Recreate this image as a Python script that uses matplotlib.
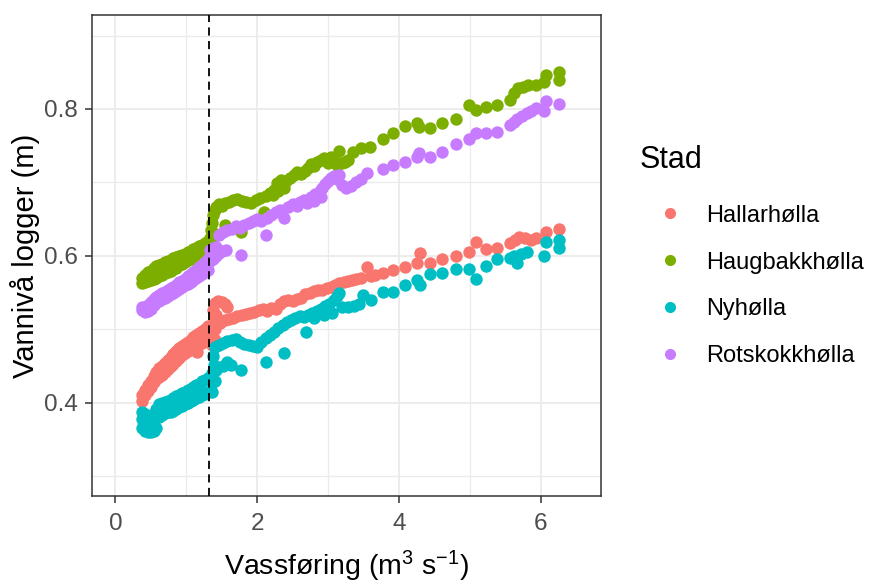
import matplotlib
matplotlib.use("Agg")
import matplotlib.pyplot as plt
from matplotlib.lines import Line2D

plt.rcParams['font.family'] = ['Liberation Sans', 'DejaVu Sans']
plt.rcParams['mathtext.default'] = 'regular'

# site names and ggplot hue colours
sites = ['Hallarhølla', 'Haugbakkhølla', 'Nyhølla', 'Rotskokkhølla']
colors = ['#F8766D', '#7CAE00', '#00BFC4', '#C77CFF']

# discharge threshold (dashed line)
threshold = 1.32

# (vassføring, vannivå)
hallar = [
    (0.38, 0.403), (0.38, 0.410), (0.42, 0.410), (0.42, 0.417), (0.46, 0.416), (0.46, 0.424),
    (0.50, 0.422), (0.50, 0.430), (0.54, 0.428), (0.54, 0.437), (0.58, 0.432), (0.58, 0.442),
    (0.62, 0.435), (0.62, 0.447), (0.66, 0.438), (0.66, 0.450), (0.70, 0.442), (0.70, 0.454),
    (0.74, 0.446), (0.74, 0.458), (0.78, 0.450), (0.78, 0.462), (0.82, 0.453), (0.82, 0.466),
    (0.86, 0.457), (0.86, 0.470), (0.90, 0.461), (0.90, 0.474), (0.94, 0.465), (0.94, 0.477),
    (0.98, 0.468), (0.98, 0.480), (1.02, 0.471), (1.02, 0.483), (1.06, 0.474), (1.06, 0.486),
    (1.10, 0.476), (1.10, 0.489), (1.14, 0.478), (1.14, 0.492), (1.18, 0.480), (1.18, 0.495),
    (1.22, 0.482), (1.22, 0.498), (1.26, 0.484), (1.26, 0.501), (1.30, 0.486), (1.30, 0.504),
    (1.15, 0.469),
    (1.37, 0.478), (1.38, 0.490), (1.37, 0.502), (1.39, 0.514), (1.38, 0.526), (1.40, 0.536),
    (1.42, 0.520), (1.41, 0.500), (1.40, 0.485),
    (1.45, 0.538), (1.50, 0.537), (1.55, 0.534), (1.58, 0.531),
    (1.48, 0.508), (1.54, 0.512), (1.60, 0.514), (1.66, 0.516), (1.72, 0.518), (1.78, 0.520),
    (1.84, 0.521), (1.90, 0.522), (1.96, 0.524), (2.02, 0.526), (2.08, 0.527), (2.14, 0.525),
    (2.20, 0.529), (2.26, 0.528), (2.32, 0.534), (2.38, 0.538), (2.44, 0.540), (2.50, 0.538),
    (2.56, 0.541), (2.62, 0.543), (2.68, 0.548), (2.74, 0.550), (2.80, 0.552), (2.86, 0.554),
    (2.92, 0.553), (2.98, 0.556), (3.04, 0.558), (3.10, 0.560), (3.16, 0.563), (3.22, 0.565),
    (3.28, 0.566), (3.34, 0.567), (3.40, 0.569), (3.46, 0.570), (3.55, 0.585), (3.60, 0.572),
    (3.66, 0.574), (3.78, 0.577), (3.92, 0.581), (4.09, 0.585), (4.25, 0.590), (4.29, 0.604),
    (4.44, 0.590), (4.61, 0.596), (4.81, 0.600), (4.99, 0.605), (5.09, 0.619), (5.23, 0.609),
    (5.38, 0.611), (5.56, 0.618), (5.64, 0.622), (5.70, 0.626), (5.78, 0.624), (5.86, 0.622),
    (5.93, 0.624), (6.07, 0.633), (6.26, 0.637),
]

haugbakk = [
    (0.38, 0.563), (0.38, 0.570), (0.42, 0.565), (0.42, 0.574), (0.46, 0.566), (0.46, 0.578),
    (0.50, 0.567), (0.50, 0.580), (0.54, 0.569), (0.54, 0.583), (0.58, 0.570), (0.58, 0.586),
    (0.62, 0.572), (0.62, 0.588), (0.66, 0.574), (0.66, 0.589), (0.70, 0.576), (0.70, 0.591),
    (0.74, 0.578), (0.74, 0.593), (0.78, 0.580), (0.78, 0.595), (0.82, 0.582), (0.82, 0.597),
    (0.86, 0.584), (0.86, 0.598), (0.90, 0.587), (0.90, 0.600), (0.94, 0.589), (0.94, 0.601),
    (0.98, 0.592), (0.98, 0.603), (1.02, 0.594), (1.02, 0.605), (1.06, 0.596), (1.06, 0.607),
    (1.10, 0.598), (1.10, 0.609), (1.14, 0.600), (1.14, 0.611), (1.18, 0.602), (1.18, 0.613),
    (1.22, 0.604), (1.22, 0.615), (1.26, 0.606), (1.26, 0.617), (1.30, 0.609), (1.30, 0.620),
    (1.33, 0.625), (1.35, 0.635), (1.37, 0.645), (1.38, 0.655), (1.40, 0.662), (1.42, 0.667),
    (1.36, 0.622), (1.40, 0.630), (1.46, 0.670), (1.50, 0.668), (1.55, 0.672), (1.60, 0.674),
    (1.66, 0.676), (1.72, 0.677), (1.78, 0.675), (1.84, 0.673), (1.55, 0.642), (1.77, 0.633),
    (1.92, 0.672), (1.98, 0.676), (2.04, 0.679), (2.10, 0.660), (2.12, 0.682), (2.18, 0.685),
    (2.22, 0.683), (2.24, 0.690), (2.28, 0.699), (2.30, 0.688), (2.34, 0.703), (2.38, 0.692),
    (2.40, 0.702), (2.46, 0.706), (2.52, 0.710), (2.56, 0.714), (2.62, 0.712), (2.68, 0.716),
    (2.72, 0.720), (2.76, 0.725), (2.80, 0.722), (2.85, 0.728), (2.90, 0.730), (2.95, 0.733),
    (3.00, 0.727), (3.04, 0.735), (3.08, 0.730), (3.12, 0.724), (3.16, 0.743), (3.20, 0.726),
    (3.24, 0.728), (3.28, 0.731), (3.35, 0.741), (3.47, 0.747), (3.59, 0.748), (3.78, 0.759),
    (3.92, 0.767), (4.08, 0.777), (4.26, 0.781), (4.28, 0.775), (4.44, 0.774), (4.61, 0.781),
    (4.81, 0.786), (4.99, 0.805), (5.09, 0.799), (5.23, 0.803), (5.38, 0.805), (5.56, 0.812),
    (5.62, 0.822), (5.68, 0.828), (5.75, 0.830), (5.82, 0.832), (5.93, 0.833), (6.04, 0.837),
    (6.07, 0.846), (6.26, 0.840), (6.26, 0.850),
]

ny = [
    (0.38, 0.366), (0.38, 0.378), (0.38, 0.388), (0.42, 0.362), (0.42, 0.374), (0.42, 0.385),
    (0.46, 0.360), (0.46, 0.372), (0.50, 0.360), (0.50, 0.378), (0.54, 0.361), (0.54, 0.385),
    (0.58, 0.366), (0.58, 0.392), (0.62, 0.380), (0.62, 0.398), (0.66, 0.384), (0.66, 0.400),
    (0.70, 0.386), (0.70, 0.401), (0.74, 0.387), (0.74, 0.402), (0.78, 0.388), (0.78, 0.404),
    (0.82, 0.389), (0.82, 0.406), (0.86, 0.391), (0.86, 0.409), (0.90, 0.394), (0.90, 0.411),
    (0.94, 0.396), (0.94, 0.413), (0.98, 0.398), (0.98, 0.415), (1.02, 0.400), (1.02, 0.417),
    (1.06, 0.402), (1.06, 0.419), (1.10, 0.404), (1.10, 0.421), (1.14, 0.406), (1.14, 0.424),
    (1.18, 0.408), (1.18, 0.426), (1.22, 0.410), (1.22, 0.429), (1.26, 0.412), (1.26, 0.431),
    (1.30, 0.414), (1.30, 0.434),
    (1.37, 0.415), (1.38, 0.428), (1.37, 0.440), (1.39, 0.452), (1.38, 0.464), (1.40, 0.476),
    (1.42, 0.445), (1.41, 0.430),
    (1.52, 0.450), (1.58, 0.455), (1.63, 0.452), (1.77, 0.445),
    (1.46, 0.478), (1.52, 0.482), (1.58, 0.484), (1.64, 0.486), (1.70, 0.487), (1.76, 0.483),
    (1.82, 0.480), (1.88, 0.478), (1.94, 0.477), (2.00, 0.476), (2.06, 0.483), (2.12, 0.456),
    (2.12, 0.488), (2.18, 0.492), (2.24, 0.497), (2.30, 0.502), (2.38, 0.468), (2.36, 0.506),
    (2.42, 0.510), (2.48, 0.512), (2.54, 0.516), (2.60, 0.518), (2.66, 0.517), (2.69, 0.496),
    (2.72, 0.520), (2.78, 0.522), (2.80, 0.515), (2.84, 0.525), (2.90, 0.528), (2.95, 0.520),
    (2.96, 0.532), (3.02, 0.535), (3.05, 0.522), (3.08, 0.540), (3.12, 0.545), (3.16, 0.549),
    (3.20, 0.530), (3.28, 0.530), (3.36, 0.532), (3.43, 0.535), (3.49, 0.547), (3.61, 0.540),
    (3.78, 0.551), (3.92, 0.551), (4.09, 0.560), (4.25, 0.567), (4.29, 0.560), (4.44, 0.575),
    (4.61, 0.576), (4.81, 0.582), (4.99, 0.582), (5.09, 0.569), (5.23, 0.586), (5.38, 0.596),
    (5.56, 0.597), (5.62, 0.600), (5.67, 0.590), (5.72, 0.603), (5.80, 0.605), (6.04, 0.600),
    (6.07, 0.619), (6.26, 0.622), (6.26, 0.611),
]

rotskokk = [
    (0.38, 0.526), (0.38, 0.530), (0.42, 0.524), (0.42, 0.531), (0.46, 0.525), (0.46, 0.533),
    (0.50, 0.527), (0.50, 0.537), (0.54, 0.533), (0.54, 0.541), (0.58, 0.537), (0.58, 0.544),
    (0.62, 0.539), (0.62, 0.547), (0.66, 0.541), (0.66, 0.549), (0.70, 0.543), (0.70, 0.551),
    (0.74, 0.545), (0.74, 0.553), (0.78, 0.548), (0.78, 0.556), (0.82, 0.550), (0.82, 0.558),
    (0.86, 0.552), (0.86, 0.561), (0.90, 0.555), (0.90, 0.564), (0.94, 0.557), (0.94, 0.566),
    (0.98, 0.560), (0.98, 0.569), (1.02, 0.562), (1.02, 0.572), (1.06, 0.565), (1.06, 0.575),
    (1.10, 0.567), (1.10, 0.578), (1.14, 0.570), (1.14, 0.581), (1.18, 0.572), (1.18, 0.585),
    (1.22, 0.575), (1.22, 0.588), (1.26, 0.578), (1.26, 0.592), (1.30, 0.581), (1.30, 0.596),
    (1.34, 0.593), (1.34, 0.608), (1.38, 0.596), (1.38, 0.611), (1.42, 0.600), (1.42, 0.612),
    (1.46, 0.604), (1.50, 0.606), (1.56, 0.608), (1.77, 0.601),
    (1.46, 0.628), (1.52, 0.632), (1.58, 0.635), (1.64, 0.637), (1.70, 0.640), (1.76, 0.638),
    (1.82, 0.642), (1.88, 0.645), (1.94, 0.648), (2.00, 0.650), (2.06, 0.647), (2.12, 0.628),
    (2.14, 0.652), (2.20, 0.655), (2.26, 0.660), (2.32, 0.663), (2.38, 0.652), (2.44, 0.667),
    (2.50, 0.670), (2.56, 0.668), (2.60, 0.674), (2.66, 0.676), (2.70, 0.672), (2.76, 0.680),
    (2.80, 0.675), (2.82, 0.684), (2.88, 0.688), (2.90, 0.680), (2.92, 0.693), (2.96, 0.698),
    (3.00, 0.702), (3.04, 0.706), (3.08, 0.709), (3.12, 0.704), (3.16, 0.710), (3.20, 0.696),
    (3.26, 0.692), (3.32, 0.695), (3.40, 0.700), (3.46, 0.704), (3.55, 0.713), (3.78, 0.718),
    (3.92, 0.724), (4.09, 0.728), (4.26, 0.734), (4.28, 0.740), (4.44, 0.735), (4.61, 0.741),
    (4.81, 0.752), (4.99, 0.759), (5.09, 0.767), (5.23, 0.767), (5.38, 0.769), (5.56, 0.778),
    (5.62, 0.782), (5.67, 0.786), (5.74, 0.791), (5.80, 0.795), (5.86, 0.797), (5.93, 0.801),
    (6.04, 0.797), (6.07, 0.811), (6.26, 0.807),
]

series = [hallar, haugbakk, ny, rotskokk]

fig = plt.figure(figsize=(8.7, 5.85), dpi=100)
ax = fig.add_axes([0.1057, 0.1521, 0.5851, 0.8223])

for pts, col in zip(series, colors):
    xs = [p[0] for p in pts]
    ys = [p[1] for p in pts]
    ax.scatter(xs, ys, s=80, color=col, linewidths=0, zorder=3)

ax.axvline(threshold, color='black', linestyle=(0, (4.5, 3)), linewidth=1.3, zorder=4)

ax.set_xlim(-0.33, 6.85)
ax.set_ylim(0.273, 0.928)
ax.set_xticks([0, 2, 4, 6])
ax.set_xticks([1, 3, 5], minor=True)
ax.set_yticks([0.4, 0.6, 0.8])
ax.set_yticks([0.3, 0.5, 0.7, 0.9], minor=True)
ax.set_yticklabels(['0.4', '0.6', '0.8'])

ax.grid(which='major', color='#EBEBEB', linewidth=1.3, zorder=0)
ax.grid(which='minor', color='#EBEBEB', linewidth=0.9, zorder=0)
ax.set_axisbelow(True)

ax.tick_params(which='major', direction='out', length=5, width=1.1, color='#333333',
               labelsize=17.5, labelcolor='#4D4D4D')
ax.tick_params(axis='x', which='major', pad=7)
ax.tick_params(axis='y', which='major', pad=5)
ax.tick_params(which='minor', length=0)
for sp in ax.spines.values():
    sp.set_color('#333333')
    sp.set_linewidth(1.1)

ax.set_xlabel('Vassføring (m$^{3}$ s$^{-1}$)', fontsize=20.5, labelpad=10)
ax.set_ylabel('Vannivå logger (m)', fontsize=21, labelpad=3)

fig.text(640 / 870, 1 - 160 / 585, 'Stad', fontsize=22, ha='left', va='center')
handles = [Line2D([], [], marker='o', linestyle='', markersize=8, color=c,
                  markeredgewidth=0) for c in colors]
leg = fig.legend(handles, sites, loc='upper left', bbox_to_anchor=(640 / 870, 0.650),
                 frameon=False, fontsize=17, labelspacing=1.05, handletextpad=0.3,
                 handlelength=2.5, borderpad=0, borderaxespad=0)

fig.savefig('out.png', dpi=100)
